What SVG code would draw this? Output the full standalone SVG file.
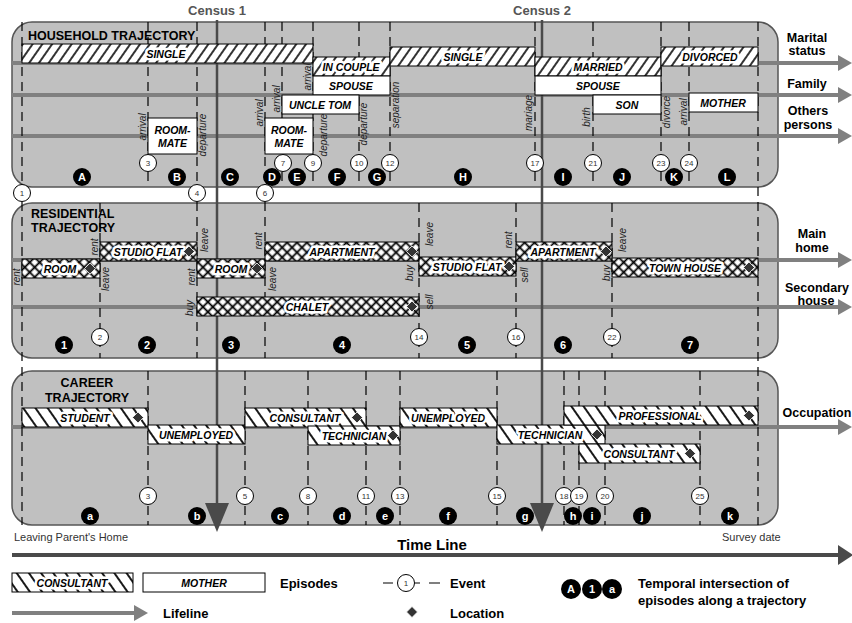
<svg xmlns="http://www.w3.org/2000/svg" width="852" height="623" viewBox="0 0 852 623">
<style>
text{font-family:"Liberation Sans",Arial,sans-serif}
.panel{fill:#c0c0c0;stroke:#555;stroke-width:1.5}
.life{stroke:#808080;stroke-width:4;fill:none;marker-end:url(#arrG)}
.dash{stroke:#000;stroke-width:1.2;stroke-dasharray:9 6;fill:none}
.census{stroke:#4a4a4a;stroke-width:2.5;fill:none;marker-end:url(#arrC)}
.box{stroke:#000;stroke-width:1}
.wb{fill:#fff}
.hh{fill:url(#pHH)}
.hr{fill:url(#pRES)}
.hc{fill:url(#pCAR)}
.ep{font-size:10.5px;font-weight:bold;font-style:italic;text-anchor:middle;fill:#000;stroke:#fff;stroke-width:5;stroke-linejoin:round;paint-order:stroke}
.rot{font-size:10px;font-style:italic;text-anchor:middle;fill:#222}
.num circle{fill:#fff;stroke:#000;stroke-width:1}
.num text{font-size:8px;text-anchor:middle;fill:#333}
.let circle{fill:#000}
.let text{font-size:11px;font-weight:bold;text-anchor:middle;fill:#fff}
.ttl{font-size:12.5px;font-weight:bold;fill:#000}
.side{font-size:12.5px;font-weight:bold;text-anchor:middle;fill:#000}
.cen{font-size:13px;font-weight:bold;text-anchor:middle;fill:#555}
.small{font-size:11px;fill:#333}
.leg{font-size:13px;font-weight:bold;fill:#000}
</style>
<defs>
<pattern id="pHH" patternUnits="userSpaceOnUse" width="8" height="8" patternTransform="rotate(35)">
<rect width="8" height="8" fill="#fff"/><line x1="4" y1="-1" x2="4" y2="9" stroke="#000" stroke-width="1.6"/>
</pattern>
<pattern id="pCAR" patternUnits="userSpaceOnUse" width="10" height="10" patternTransform="rotate(-35)">
<rect width="10" height="10" fill="#fff"/><line x1="5" y1="-1" x2="5" y2="11" stroke="#000" stroke-width="1.8"/>
</pattern>
<pattern id="pRES" patternUnits="userSpaceOnUse" width="7" height="7" patternTransform="rotate(45)">
<rect width="7" height="7" fill="#fff"/><line x1="3.5" y1="-1" x2="3.5" y2="8" stroke="#000" stroke-width="1.8"/><line x1="-1" y1="3.5" x2="8" y2="3.5" stroke="#000" stroke-width="1.8"/>
</pattern>
<marker id="arrG" markerUnits="userSpaceOnUse" viewBox="0 0 14 16" markerWidth="14" markerHeight="16" refX="0" refY="8" orient="auto"><path d="M0,0 L14,8 L0,16Z" fill="#808080"/></marker>
<marker id="arrC" markerUnits="userSpaceOnUse" viewBox="0 0 29 24" markerWidth="29" markerHeight="24" refX="0" refY="12" orient="auto"><path d="M0,0 L29,12 L0,24Z" fill="#4a4a4a"/></marker>
<marker id="arrT" markerUnits="userSpaceOnUse" viewBox="0 0 15 20" markerWidth="15" markerHeight="20" refX="0" refY="10" orient="auto"><path d="M0,0 L15,10 L0,20Z" fill="#4a4a4a"/></marker>
<path id="loc" d="M0,-5.5L5.5,0L0,5.5L-5.5,0Z" fill="#333" stroke="#fff" stroke-width="0.8"/>
</defs>

<!-- panels -->
<g id="panel-household"><rect class="panel" x="12" y="22" width="766" height="165" rx="20"/></g>
<g id="panel-residential"><rect class="panel" x="12" y="203" width="766" height="155" rx="20"/></g>
<g id="panel-career"><rect class="panel" x="12" y="371" width="766" height="154" rx="20"/></g>

<!-- connectors: lifelines, event lines, census lines -->
<g id="connectors">
<line class="life" x1="12" y1="63" x2="838" y2="63"/>
<line class="life" x1="12" y1="95" x2="838" y2="95"/>
<line class="life" x1="12" y1="136" x2="838" y2="136"/>
<line class="life" x1="12" y1="260" x2="838" y2="260"/>
<line class="life" x1="12" y1="307" x2="838" y2="307"/>
<line class="life" x1="12" y1="427" x2="838" y2="427"/>
<path class="dash" d="M22,22V525 M758,22V525 M197,22V358 M265,22V358
M148,22V187 M282,22V187 M313,22V187 M359,22V187 M390,22V187 M535,22V187 M593,22V187 M661,22V187 M689,22V187
M100,203V358 M419,203V358 M516,203V358 M612,203V358
M148,371V525 M245,371V525 M308,371V525 M366,371V525 M400,371V525 M497,371V525 M564,371V525 M579,371V525 M605,371V525 M700,371V525"/>
<line class="census" x1="217" y1="20" x2="217" y2="503"/>
<line class="census" x1="542" y1="20" x2="542" y2="503"/>
</g>
<g id="census-labels">
<text class="cen" x="217" y="15">Census 1</text>
<text class="cen" x="542" y="15">Census 2</text>
</g>

<!-- household episodes -->
<g id="ep-single1"><rect class="box hh" x="22" y="44" width="291" height="19"/><text class="ep" x="166" y="57.5">SINGLE</text></g>
<g id="ep-incouple"><rect class="box hh" x="313" y="57" width="77" height="19"/><text class="ep" x="351" y="70.5">IN COUPLE</text></g>
<g id="ep-spouse1"><rect class="box wb" x="313" y="76" width="77" height="19"/><text class="ep" x="351" y="89.5">SPOUSE</text></g>
<g id="ep-single2"><rect class="box hh" x="390" y="47" width="145" height="19"/><text class="ep" x="463" y="60.5">SINGLE</text></g>
<g id="ep-married"><rect class="box hh" x="535" y="57" width="126" height="19"/><text class="ep" x="598" y="70.5">MARRIED</text></g>
<g id="ep-spouse2"><rect class="box wb" x="535" y="76" width="126" height="19"/><text class="ep" x="598" y="89.5">SPOUSE</text></g>
<g id="ep-son"><rect class="box wb" x="593" y="95" width="68" height="19"/><text class="ep" x="627" y="108.5">SON</text></g>
<g id="ep-divorced"><rect class="box hh" x="661" y="47" width="97" height="19"/><text class="ep" x="710" y="60.5">DIVORCED</text></g>
<g id="ep-mother"><rect class="box wb" x="689" y="93" width="69" height="19"/><text class="ep" x="723" y="106.5">MOTHER</text></g>
<g id="ep-uncletom"><rect class="box wb" x="282" y="95" width="77" height="19"/><text class="ep" x="320" y="108.5">UNCLE TOM</text></g>
<g id="ep-roommate1"><rect class="box wb" x="148" y="118" width="49" height="36"/><text class="ep" x="172.5" y="133.5">ROOM-</text><text class="ep" x="172.5" y="147">MATE</text></g>
<g id="ep-roommate2"><rect class="box wb" x="265" y="118" width="48" height="36"/><text class="ep" x="289" y="133.5">ROOM-</text><text class="ep" x="289" y="147">MATE</text></g>

<!-- residential episodes -->
<g id="ep-room1"><rect class="box hr" x="22" y="259" width="78" height="19"/><text class="ep" x="60" y="272.5">ROOM</text><use href="#loc" x="90" y="268.5"/></g>
<g id="ep-studio1"><rect class="box hr" x="100" y="242" width="97" height="19"/><text class="ep" x="148" y="255.5">STUDIO FLAT</text><use href="#loc" x="189" y="251.5"/></g>
<g id="ep-room2"><rect class="box hr" x="197" y="259" width="68" height="19"/><text class="ep" x="231" y="272.5">ROOM</text><use href="#loc" x="257" y="268.5"/></g>
<g id="ep-apartment1"><rect class="box hr" x="265" y="242" width="154" height="19"/><text class="ep" x="342" y="255.5">APARTMENT</text><use href="#loc" x="412" y="251.5"/></g>
<g id="ep-studio2"><rect class="box hr" x="419" y="257" width="97" height="19"/><text class="ep" x="467" y="270.5">STUDIO FLAT</text><use href="#loc" x="509" y="266.5"/></g>
<g id="ep-apartment2"><rect class="box hr" x="516" y="242" width="96" height="19"/><text class="ep" x="563" y="255.5">APARTMENT</text><use href="#loc" x="606" y="251.5"/></g>
<g id="ep-townhouse"><rect class="box hr" x="612" y="258" width="146" height="19"/><text class="ep" x="685" y="271.5">TOWN HOUSE</text><use href="#loc" x="749" y="267.5"/></g>
<g id="ep-chalet"><rect class="box hr" x="197" y="297" width="222" height="19"/><text class="ep" x="307" y="310.5">CHALET</text><use href="#loc" x="412" y="306.5"/></g>

<!-- career episodes -->
<g id="ep-student"><rect class="box hc" x="22" y="408" width="126" height="19"/><text class="ep" x="85" y="421.5">STUDENT</text><use href="#loc" x="138" y="417.5"/></g>
<g id="ep-unemployed1"><rect class="box hc" x="148" y="425" width="97" height="19"/><text class="ep" x="196" y="438.5">UNEMPLOYED</text></g>
<g id="ep-consultant1"><rect class="box hc" x="245" y="408" width="121" height="19"/><text class="ep" x="305" y="421.5">CONSULTANT</text><use href="#loc" x="357" y="417.5"/></g>
<g id="ep-technician1"><rect class="box hc" x="308" y="426" width="92" height="19"/><text class="ep" x="354" y="439.5">TECHNICIAN</text><use href="#loc" x="393" y="435.5"/></g>
<g id="ep-unemployed2"><rect class="box hc" x="400" y="408" width="97" height="19"/><text class="ep" x="448" y="421.5">UNEMPLOYED</text></g>
<g id="ep-technician2"><rect class="box hc" x="497" y="425" width="108" height="19"/><text class="ep" x="550" y="438.5">TECHNICIAN</text><use href="#loc" x="597" y="434.5"/></g>
<g id="ep-professional"><rect class="box hc" x="564" y="406" width="194" height="19"/><text class="ep" x="660" y="419.5">PROFESSIONAL</text><use href="#loc" x="749" y="415.5"/></g>
<g id="ep-consultant2"><rect class="box hc" x="579" y="444" width="121" height="19"/><text class="ep" x="639" y="457.5">CONSULTANT</text><use href="#loc" x="690" y="453.5"/></g>

<!-- event labels -->
<g id="event-labels">
<text class="rot" transform="translate(146,127) rotate(-90)">arrival</text>
<text class="rot" transform="translate(206,135) rotate(-90)">departure</text>
<text class="rot" transform="translate(263,113) rotate(-90)">arrival</text>
<text class="rot" transform="translate(280,99) rotate(-90)">arrival</text>
<text class="rot" transform="translate(311,77) rotate(-90)">arrival</text>
<text class="rot" transform="translate(327,135) rotate(-90)">departure</text>
<text class="rot" transform="translate(367,124) rotate(-90)">departure</text>
<text class="rot" transform="translate(399,105) rotate(-90)">separation</text>
<text class="rot" transform="translate(532,113) rotate(-90)">mariage</text>
<text class="rot" transform="translate(590,117) rotate(-90)">birth</text>
<text class="rot" transform="translate(670,112) rotate(-90)">divorce</text>
<text class="rot" transform="translate(687,112) rotate(-90)">arrival</text>
<text class="rot" transform="translate(20,277) rotate(-90)">rent</text>
<text class="rot" transform="translate(98,247) rotate(-90)">rent</text>
<text class="rot" transform="translate(109,279) rotate(-90)">leave</text>
<text class="rot" transform="translate(208,240) rotate(-90)">leave</text>
<text class="rot" transform="translate(195,277) rotate(-90)">rent</text>
<text class="rot" transform="translate(193,308) rotate(-90)">buy</text>
<text class="rot" transform="translate(262,241) rotate(-90)">rent</text>
<text class="rot" transform="translate(276,279) rotate(-90)">leave</text>
<text class="rot" transform="translate(433,234) rotate(-90)">leave</text>
<text class="rot" transform="translate(413,273) rotate(-90)">buy</text>
<text class="rot" transform="translate(433,302) rotate(-90)">sell</text>
<text class="rot" transform="translate(512,240) rotate(-90)">rent</text>
<text class="rot" transform="translate(528,275) rotate(-90)">sell</text>
<text class="rot" transform="translate(626,240) rotate(-90)">leave</text>
<text class="rot" transform="translate(610,273) rotate(-90)">buy</text>
</g>

<!-- events -->
<g id="events" class="num">
<circle cx="148" cy="163" r="8.5"/><text x="148" y="166">3</text>
<circle cx="283" cy="163" r="8.5"/><text x="283" y="166">7</text>
<circle cx="313" cy="163" r="8.5"/><text x="313" y="166">9</text>
<circle cx="359" cy="163" r="8.5"/><text x="359" y="166">10</text>
<circle cx="390" cy="163" r="8.5"/><text x="390" y="166">12</text>
<circle cx="535" cy="163" r="8.5"/><text x="535" y="166">17</text>
<circle cx="593" cy="163" r="8.5"/><text x="593" y="166">21</text>
<circle cx="661" cy="163" r="8.5"/><text x="661" y="166">23</text>
<circle cx="689" cy="163" r="8.5"/><text x="689" y="166">24</text>
<circle cx="22" cy="193" r="8.5"/><text x="22" y="196">1</text>
<circle cx="197" cy="193" r="8.5"/><text x="197" y="196">4</text>
<circle cx="265" cy="193" r="8.5"/><text x="265" y="196">6</text>
<circle cx="100" cy="337" r="8.5"/><text x="100" y="340">2</text>
<circle cx="419" cy="337" r="8.5"/><text x="419" y="340">14</text>
<circle cx="516" cy="337" r="8.5"/><text x="516" y="340">16</text>
<circle cx="612" cy="337" r="8.5"/><text x="612" y="340">22</text>
<circle cx="148" cy="496" r="8.5"/><text x="148" y="499">3</text>
<circle cx="245" cy="496" r="8.5"/><text x="245" y="499">5</text>
<circle cx="308" cy="496" r="8.5"/><text x="308" y="499">8</text>
<circle cx="366" cy="496" r="8.5"/><text x="366" y="499">11</text>
<circle cx="400" cy="496" r="8.5"/><text x="400" y="499">13</text>
<circle cx="497" cy="496" r="8.5"/><text x="497" y="499">15</text>
<circle cx="564" cy="496" r="8.5"/><text x="564" y="499">18</text>
<circle cx="579" cy="496" r="8.5"/><text x="579" y="499">19</text>
<circle cx="605" cy="496" r="8.5"/><text x="605" y="499">20</text>
<circle cx="700" cy="496" r="8.5"/><text x="700" y="499">25</text>
</g>

<!-- intersections -->
<g id="intersections" class="let">
<circle cx="82" cy="177" r="9"/><text x="82" y="181">A</text>
<circle cx="177" cy="177" r="9"/><text x="177" y="181">B</text>
<circle cx="230" cy="177" r="9"/><text x="230" y="181">C</text>
<circle cx="272" cy="177" r="9"/><text x="272" y="181">D</text>
<circle cx="297" cy="177" r="9"/><text x="297" y="181">E</text>
<circle cx="337" cy="177" r="9"/><text x="337" y="181">F</text>
<circle cx="377" cy="177" r="9"/><text x="377" y="181">G</text>
<circle cx="463" cy="177" r="9"/><text x="463" y="181">H</text>
<circle cx="563" cy="177" r="9"/><text x="563" y="181">I</text>
<circle cx="622" cy="177" r="9"/><text x="622" y="181">J</text>
<circle cx="674" cy="177" r="9"/><text x="674" y="181">K</text>
<circle cx="727" cy="177" r="9"/><text x="727" y="181">L</text>
<circle cx="64" cy="345" r="9"/><text x="64" y="349">1</text>
<circle cx="147" cy="345" r="9"/><text x="147" y="349">2</text>
<circle cx="231" cy="345" r="9"/><text x="231" y="349">3</text>
<circle cx="342" cy="345" r="9"/><text x="342" y="349">4</text>
<circle cx="467" cy="345" r="9"/><text x="467" y="349">5</text>
<circle cx="563" cy="345" r="9"/><text x="563" y="349">6</text>
<circle cx="690" cy="345" r="9"/><text x="690" y="349">7</text>
<circle cx="90" cy="516" r="9"/><text x="90" y="520">a</text>
<circle cx="197" cy="516" r="9"/><text x="197" y="520">b</text>
<circle cx="280" cy="516" r="9"/><text x="280" y="520">c</text>
<circle cx="342" cy="516" r="9"/><text x="342" y="520">d</text>
<circle cx="385" cy="516" r="9"/><text x="385" y="520">e</text>
<circle cx="448" cy="516" r="9"/><text x="448" y="520">f</text>
<circle cx="525" cy="516" r="9"/><text x="525" y="520">g</text>
<circle cx="573" cy="516" r="9"/><text x="573" y="520">h</text>
<circle cx="592" cy="516" r="9"/><text x="592" y="520">i</text>
<circle cx="642" cy="516" r="9"/><text x="642" y="520">j</text>
<circle cx="730" cy="516" r="9"/><text x="730" y="520">k</text>
</g>

<!-- titles -->
<g id="titles">
<text class="ttl" x="28" y="40">HOUSEHOLD TRAJECTORY</text>
<text class="ttl" x="31" y="218">RESIDENTIAL</text>
<text class="ttl" x="31" y="232">TRAJECTORY</text>
<text class="ttl" x="87" y="387" text-anchor="middle">CAREER</text>
<text class="ttl" x="87" y="402" text-anchor="middle">TRAJECTORY</text>
<text class="side" x="807" y="42">Marital</text>
<text class="side" x="807" y="55">status</text>
<text class="side" x="807" y="88">Family</text>
<text class="side" x="808" y="115">Others</text>
<text class="side" x="808" y="129">persons</text>
<text class="side" x="812" y="238">Main</text>
<text class="side" x="812" y="252">home</text>
<text class="side" x="817" y="292">Secondary</text>
<text class="side" x="816" y="305">house</text>
<text class="side" x="817" y="417">Occupation</text>
</g>

<!-- time line -->
<g id="timeline">
<line x1="12" y1="555" x2="838" y2="555" stroke="#4a4a4a" stroke-width="4" marker-end="url(#arrT)"/>
<text x="432" y="550" font-size="15" font-weight="bold" text-anchor="middle">Time Line</text>
<text class="small" x="14" y="541">Leaving Parent's Home</text>
<text class="small" x="722" y="541">Survey date</text>
</g>

<!-- legend -->
<g id="legend">
<rect class="box hc" x="12" y="573" width="121" height="19"/><text class="ep" x="72" y="586.5">CONSULTANT</text>
<rect class="box wb" x="143" y="573" width="122" height="19"/><text class="ep" x="204" y="586.5">MOTHER</text>
<text class="leg" x="280" y="588">Episodes</text>
<line class="life" x1="12" y1="613" x2="134" y2="613"/>
<text class="leg" x="163" y="618">Lifeline</text>
<path d="M383,583H393 M415,583H420 M429,583H440" stroke="#000" stroke-width="1.2"/>
<g class="num"><circle cx="406" cy="583" r="8.5"/><text x="406" y="586">1</text></g>
<text class="leg" x="450" y="588">Event</text>
<use href="#loc" x="412" y="612"/>
<text class="leg" x="450" y="618">Location</text>
<g class="let">
<circle cx="571" cy="589" r="10"/><text x="571" y="593">A</text>
<circle cx="592" cy="589" r="10"/><text x="592" y="593">1</text>
<circle cx="612" cy="589" r="10"/><text x="612" y="593">a</text>
</g>
<text class="leg" x="638" y="588">Temporal intersection of</text>
<text class="leg" x="638" y="605">episodes along a trajectory</text>
</g>
</svg>
